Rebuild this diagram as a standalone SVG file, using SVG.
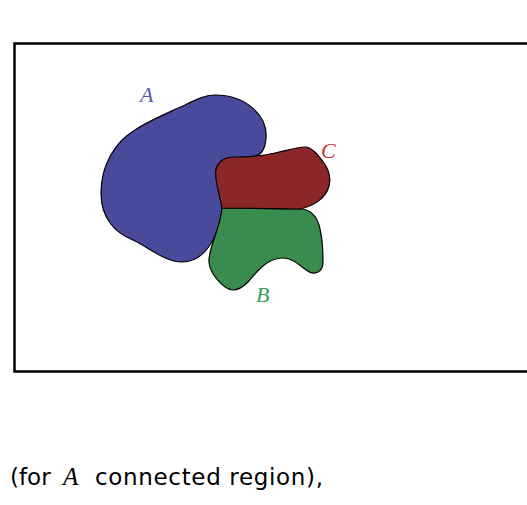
<svg xmlns="http://www.w3.org/2000/svg" width="527" height="505" viewBox="0 0 527 505">
  <style>
    .region { stroke: #000; stroke-width: 1.2; stroke-linejoin: round; }
    .lbl { font-family: "Liberation Serif", "DejaVu Serif", serif; font-style: italic; font-size: 22px; }
    .cap { font-family: "DejaVu Sans", "Liberation Sans", sans-serif; font-size: 23px; fill: #000; }
    .capm { font-family: "Liberation Serif", "DejaVu Serif", serif; font-style: italic; font-size: 25px; fill: #000; }
  </style>
  <rect width="527" height="505" fill="#fff"/>
  <!-- frame, open to the right -->
  <rect x="14.5" y="43.5" width="540" height="328" fill="none" stroke="#000" stroke-width="2.5"/>

  <g id="regionA">
    <path class="region" fill="#4a4a9c" d="M 215,95 C 245,95 268,115 266,138 C 265,150 262,156 250,157 C 232,158 214,160 216,172 C 218,185 224,195 222,210 C 220,230 208,262 182,262 C 165,262 150,248 133,240 C 115,233 101,218 101,193 C 101,165 115,142 135,130 C 150,120 170,112 185,105 C 195,100 205,95 215,95 Z"/>
    <text class="lbl" x="140" y="102" fill="#5a5ab0">A</text>
  </g>

  <g id="regionB">
    <path class="region" fill="#3a8c4e" d="M 222,208 C 250,208 285,208 302,209 C 310,210 316,215 319,225 C 322,235 323,248 323,262 C 323,270 318,274 312,273 C 304,271 296,258 283,258 C 268,258 258,270 248,282 C 242,288 238,290 233,290 C 225,290 210,275 209,262 C 208,248 220,230 222,208 Z"/>
    <text class="lbl" x="256" y="302" fill="#3c9c5a">B</text>
  </g>

  <g id="regionC">
    <path class="region" fill="#8b2629" d="M 222,208 C 220,195 214,180 216,170 C 218,161 225,157 235,157 C 250,157 262,156 275,153 C 288,150 298,147 305,147 C 312,147 318,155 324,163 C 329,170 331,178 329,186 C 326,198 314,206 300,209 C 280,209 250,208 222,208 Z"/>
    <text class="lbl" x="321" y="158" fill="#c8303c">C</text>
  </g>

  <!-- caption -->
  <text class="cap" x="10" y="485">(for</text>
  <text class="capm" x="63" y="485">A</text>
  <text class="cap" x="95" y="485" textLength="228" lengthAdjust="spacing">connected region),</text>
</svg>
